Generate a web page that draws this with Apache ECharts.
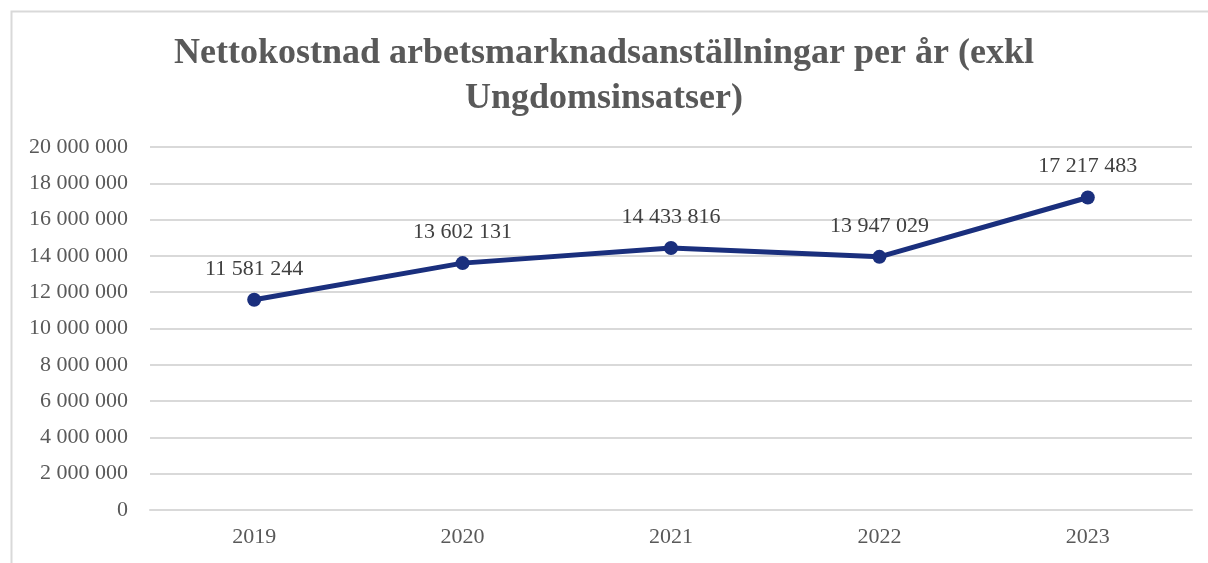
<!DOCTYPE html>
<html>
<head>
<meta charset="utf-8">
<script src="https://cdn.jsdelivr.net/npm/echarts@6/dist/echarts.min.js"></script>
<style>
html,body{margin:0;padding:0;background:#fff;}
#c{width:1208px;height:563px;}
</style>
</head>
<body>
<div id="c"></div>
<script>
const titleText = 'Nettokostnad arbetsmarknadsanställningar per år (exkl\nUngdomsinsatser)';
const categories = ['2019', '2020', '2021', '2022', '2023'];
const values = [11581244, 13602131, 14433816, 13947029, 17217483];
const yMin = 0, yMax = 20000000, yStep = 2000000;

function fmt(v) {
  return String(Math.round(v)).replace(/\B(?=(\d{3})+(?!\d))/g, ' ');
}

const serif = '"Liberation Serif", "DejaVu Serif", serif';
const chart = echarts.init(document.getElementById('c'), null, {renderer: 'canvas'});
chart.setOption({
  backgroundColor: '#ffffff',
  animation: false,
  graphic: [{
    type: 'rect',
    left: 9, top: 9,
    shape: {width: 1400, height: 800},
    style: {fill: 'none', stroke: '#d9d9d9', lineWidth: 2}
  }],
  title: {
    text: titleText,
    left: 'center',
    top: 26,
    textStyle: {
      fontFamily: serif,
      fontWeight: 'bold',
      fontSize: 36,
      lineHeight: 45,
      color: '#595959'
    }
  },
  grid: {left: 150, right: 16, top: 147, bottom: 53, containLabel: false},
  xAxis: {
    type: 'category',
    data: categories,
    boundaryGap: true,
    axisLine: {show: true, lineStyle: {color: '#d9d9d9', width: 2}},
    axisTick: {show: false},
    axisLabel: {fontFamily: serif, fontSize: 22, color: '#595959', margin: 16}
  },
  yAxis: {
    type: 'value',
    min: yMin, max: yMax, interval: yStep,
    axisLine: {show: false},
    axisTick: {show: false},
    splitLine: {lineStyle: {color: '#d9d9d9', width: 2}},
    axisLabel: {fontFamily: serif, fontSize: 22, color: '#595959', margin: 22, formatter: fmt}
  },
  series: [{
    type: 'line',
    data: values,
    symbol: 'circle',
    symbolSize: 14,
    lineStyle: {color: '#1a2f7d', width: 5},
    itemStyle: {color: '#1a2f7d'},
    label: {
      show: true,
      position: 'top',
      distance: 13,
      fontFamily: serif,
      fontSize: 22,
      color: '#404040',
      formatter: p => fmt(p.value)
    }
  }]
});
</script>
</body>
</html>
